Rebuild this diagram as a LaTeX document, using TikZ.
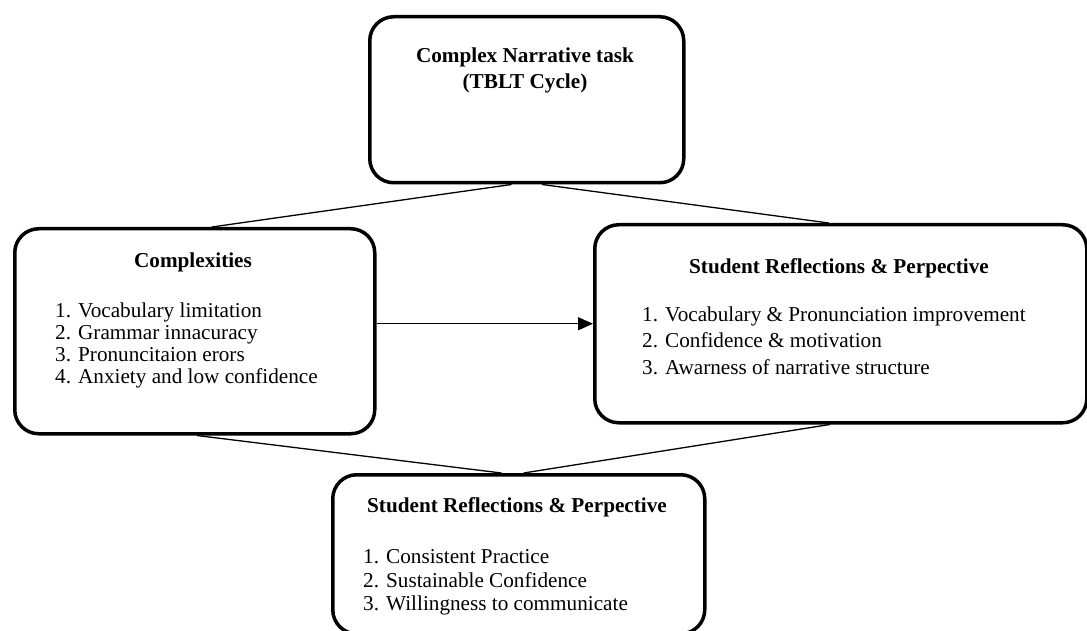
\documentclass[tikz,border=0pt]{standalone}
\usepackage{fontspec}
\setmainfont{Liberation Serif}
\usetikzlibrary{arrows.meta,calc}
\begin{document}
\begin{tikzpicture}[x=1pt,y=-1pt,
  box/.style={draw, line width=3.5pt, rounded corners=24pt, inner sep=0pt, anchor=north west},
  link/.style={line width=1.3pt},
  arr/.style={line width=1.3pt, -{Triangle[length=15pt,width=13pt]}},
  hd/.style={font=\fontsize{21.2}{25}\selectfont\bfseries, anchor=base, inner sep=0pt},
  itm/.style={font=\fontsize{21.2}{25}\selectfont, anchor=base west, inner sep=0pt}]
\useasboundingbox (0,0) rectangle (1087,631);
% boxes
\node[box, minimum width=314pt, minimum height=166pt] (top) at (368,15) {};
\node[box, minimum width=360pt, minimum height=205pt] (left) at (13,227) {};
\node[box, minimum width=492pt, minimum height=198pt] (right) at (593,223) {};
\node[box, minimum width=372pt, minimum height=159pt] (bot) at (331,473) {};
% texts
\node[hd] (th1) at (525,63) {Complex Narrative task};
\node[hd] (th2) at (525,89) {(TBLT Cycle)};
\node[hd] (lh) at (193,268) {Complexities};
\node[itm] (l1) at (55,317) {1. Vocabulary limitation};
\node[itm] (l2) at (55,339) {2. Grammar innacuracy};
\node[itm] (l3) at (55,361) {3. Pronuncitaion erors};
\node[itm] (l4) at (55,383) {4. Anxiety and low confidence};
\node[hd] (rh) at (839,273) {Student Reflections \& Perpective};
\node[itm] (r1) at (642,321) {1. Vocabulary \& Pronunciation improvement};
\node[itm] (r2) at (642,347.5) {2. Confidence \& motivation};
\node[itm] (r3) at (642,374) {3. Awarness of narrative structure};
\node[hd] (bh) at (517,512) {Student Reflections \& Perpective};
\node[itm] (b1) at (363,563) {1. Consistent Practice};
\node[itm] (b2) at (363,587) {2. Sustainable Confidence};
\node[itm] (b3) at (363,610) {3. Willingness to communicate};
% connection points
\coordinate (ta) at ($(top.south west)!0.452!(top.south east)$);
\coordinate (tb) at ($(top.south west)!0.548!(top.south east)$);
\coordinate (la) at ($(left.north west)!0.547!(left.north east)$);
\coordinate (lb) at ($(left.south west)!0.506!(left.south east)$);
\coordinate (ra) at ($(right.north west)!0.476!(right.north east)$);
\coordinate (rb) at ($(right.south west)!0.478!(right.south east)$);
\coordinate (ba) at ($(bot.north west)!0.454!(bot.north east)$);
\coordinate (bb) at ($(bot.north west)!0.513!(bot.north east)$);
% connectors
\draw[link] (ta) -- (la);
\draw[link] (tb) -- (ra);
\draw[link] (lb) -- (ba);
\draw[link] (rb) -- (bb);
\draw[arr] (left.east |- right.west) -- (right.west);
\end{tikzpicture}
\end{document}
